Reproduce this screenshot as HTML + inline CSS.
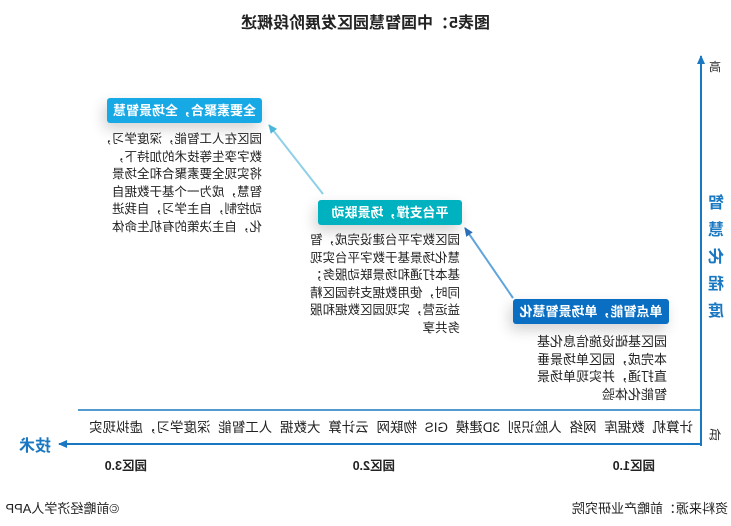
<!DOCTYPE html>
<html><head><meta charset="utf-8"><style>
html,body{margin:0;padding:0;background:#fff;}
body{width:731px;height:526px;overflow:hidden;position:relative;font-family:"Liberation Sans","Noto Sans CJK SC",sans-serif;}
#w{position:absolute;left:0;top:0;width:731px;height:526px;transform:scaleX(-1);transform-origin:center;}
.a{position:absolute;white-space:nowrap;}
.hd{position:absolute;color:#fff;font-weight:bold;font-size:13px;text-align:center;line-height:25px;border-radius:3px;box-shadow:3px 6px 14px rgba(0,0,0,0.18);}
.tx{position:absolute;font-size:12.5px;line-height:17.5px;color:#222;white-space:nowrap;}
</style></head><body><div id="w">
<div class="a" style="left:0;width:731px;top:9px;text-align:center;font-size:16px;font-weight:bold;color:#222;">图表5：中国智慧园区发展阶段概述</div>

<svg class="a" style="left:0;top:0" width="731" height="526">
<defs><marker id="m" markerUnits="userSpaceOnUse" markerWidth="10" markerHeight="10" refX="8" refY="5" orient="auto"><path d="M0,1 L9,5 L0,9 z" fill="#1a78c2"/></marker>
<marker id="m2" markerUnits="userSpaceOnUse" markerWidth="10" markerHeight="10" refX="8" refY="5" orient="auto"><path d="M0,1 L9,5 L0,9 z" fill="#2a6fb8"/></marker>
<marker id="m3" markerUnits="userSpaceOnUse" markerWidth="10" markerHeight="10" refX="8" refY="5" orient="auto"><path d="M0,1 L9,5 L0,9 z" fill="#4ab6d8"/></marker></defs>
<line x1="30" y1="446" x2="30" y2="56" stroke="#1a78c2" stroke-width="2" marker-end="url(#m)"/>
<line x1="30" y1="444" x2="672" y2="444" stroke="#1a78c2" stroke-width="2" marker-end="url(#m)"/>
<line x1="30" y1="410" x2="653" y2="410" stroke="#1a78c2" stroke-width="1.5"/>
<line x1="218" y1="298" x2="266" y2="228" stroke="#5fa5dc" stroke-width="2" marker-end="url(#m2)"/>
<line x1="408" y1="194" x2="462" y2="125" stroke="#8fd0e8" stroke-width="2" marker-end="url(#m3)"/>
</svg>

<div class="a" style="left:10px;top:58px;font-size:12px;color:#222;">高</div>
<div class="a" style="left:10px;top:426px;font-size:12px;color:#222;">低</div>
<div class="a" style="left:7px;top:190px;width:20px;font-size:16px;font-weight:bold;color:#1a78c2;line-height:27px;white-space:normal;">智慧化程度</div>

<div class="hd" style="left:469px;top:98px;width:155px;background:#17a9e6;">全要素聚合，全场景智慧</div>
<div class="tx" style="left:469px;top:131px;">园区在人工智能，深度学习，<br>数字孪生等技术的加持下，<br>将实现全要素聚合和全场景<br>智慧，成为一个基于数据自<br>动控制，自主学习，自我进<br>化，自主决策的有机生命体</div>

<div class="hd" style="left:269px;top:200px;width:144px;background:#00b2bf;">平台支撑，场景联动</div>
<div class="tx" style="left:271px;top:232px;">园区数字平台建设完成，智<br>慧化场景基于数字平台实现<br>基本打通和场景联动服务；<br>同时，使用数据支持园区精<br>益运营，实现园区数据和服<br>务共享</div>

<div class="hd" style="left:62px;top:299px;width:156px;background:#0a6fc2;">单点智能，单场景智慧化</div>
<div class="tx" style="left:64px;top:333px;font-size:13px;">园区基础设施信息化基<br>本完成，园区单场景垂<br>直打通，并实现单场景<br>智能化体验</div>

<div class="a" style="left:38px;top:416px;font-size:13.5px;color:#222;word-spacing:4px;">计算机 数据库 网络 人脸识别 3D建模 GIS 物联网 云计算 大数据 人工智能 深度学习，虚拟现实</div>

<div class="a" style="left:680px;top:432px;font-size:16px;font-weight:bold;color:#1a78c2;">技术</div>
<div class="a" style="left:76px;top:455px;font-size:12.5px;font-weight:bold;color:#222;">园区1.0</div>
<div class="a" style="left:336px;top:455px;font-size:12.5px;font-weight:bold;color:#222;">园区2.0</div>
<div class="a" style="left:584px;top:455px;font-size:12.5px;font-weight:bold;color:#222;">园区3.0</div>

<div class="a" style="left:3px;top:498px;font-size:13px;color:#222;">资料来源：前瞻产业研究院</div>
<div class="a" style="left:612px;top:498px;font-size:13px;color:#222;">©前瞻经济学人APP</div>
</div></body></html>
